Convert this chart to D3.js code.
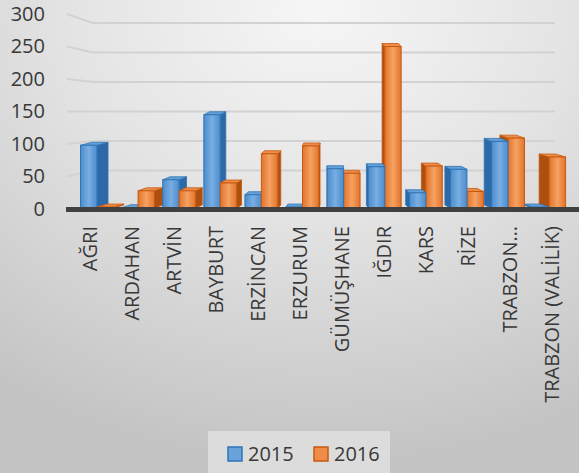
<!DOCTYPE html>
<html>
<head>
<meta charset="utf-8">
<script src="https://cdn.jsdelivr.net/npm/d3@7"></script>
<style>
  body { margin: 0; padding: 0; overflow: hidden; }
  svg text { font-family: "Open Sans", "Noto Sans", sans-serif; fill: #383838; }
</style>
</head>
<body>
<div id="chart"></div>
<script>
// Données
const iller = ["AĞRI", "ARDAHAN", "ARTVİN", "BAYBURT", "ERZİNCAN", "ERZURUM", "GÜMÜŞHANE", "IĞDIR", "KARS", "RİZE", "TRABZON…", "TRABZON (VALİLİK)"];
const yillar = ["2015", "2016"];
const degerler2015 = [98, 2, 45, 145, 22, 3, 62, 65, 25, 61, 104, 3];
const degerler2016 = [3, 28, 28, 40, 85, 97, 55, 250, 66, 27, 109, 80];
const yTicks = [0, 50, 100, 150, 200, 250, 300];

const width = 579, height = 473;
const renkler = {
    "2015": { lo: "#4d8ccd", hi: "#78aee2", edge: "#2e75b6", side: "#2c69a6", top: "#66a0d9", legend: "#6aa2dc" },
    "2016": { lo: "#e3732a", hi: "#f5a262", edge: "#c55a11", side: "#ad4f0f", top: "#f08c4a", legend: "#ef8c4a" }
};

const svg = d3.select("#chart").append("svg")
    .attr("width", width).attr("height", height);

const defs = svg.append("defs");
const bg = defs.append("radialGradient").attr("id", "bg")
    .attr("cx", "55%").attr("cy", "2%").attr("r", "95%");
bg.append("stop").attr("offset", "0%").attr("stop-color", "#f6f6f6");
bg.append("stop").attr("offset", "45%").attr("stop-color", "#e4e4e4");
bg.append("stop").attr("offset", "100%").attr("stop-color", "#c4c4c4");

yillar.forEach(y => {
    const g = defs.append("linearGradient").attr("id", "front" + y)
        .attr("x1", "0%").attr("x2", "100%").attr("y1", "0%").attr("y2", "0%");
    g.append("stop").attr("offset", "0%").attr("stop-color", renkler[y].lo);
    g.append("stop").attr("offset", "50%").attr("stop-color", renkler[y].hi);
    g.append("stop").attr("offset", "100%").attr("stop-color", renkler[y].lo);
});

svg.append("rect").attr("width", width).attr("height", height).attr("fill", "url(#bg)");

// Echelles
const yFront = d3.scaleLinear().domain([0, 300]).range([209, 14]);
const yBack = d3.scaleLinear().domain([0, 300]).range([200, 23]);
const xLabel = d3.scaleBand().domain(iller).range([69, 573]);
const xBar = d3.scaleBand().domain(iller).range([76.4, 569.7]).paddingInner(0.2).paddingOuter(0.1);
const xSub = d3.scaleBand().domain(yillar).range([0, xBar.bandwidth()]);

// Grille (mur gauche + mur du fond)
const grid = svg.append("g");
yTicks.filter(v => v > 0).forEach(v => {
    grid.append("path")
        .attr("d", `M67,${yFront(v)} L93,${yBack(v)} L555,${yBack(v)}`)
        .attr("fill", "none").attr("stroke", "#d2d2d2").attr("stroke-width", 2);
});

// Axe Y
const yAxis = svg.append("g").attr("transform", "translate(45,0)")
    .call(d3.axisLeft(yFront).tickValues(yTicks).tickSize(0).tickPadding(0));
yAxis.select(".domain").remove();
yAxis.selectAll("text").style("font-size", "20px").attr("fill", "#383838");

// Barres 3D
const vx = 335, k = 0.045, depthY = -3, yBot = 208;
const bars = [];
iller.forEach((il, i) => {
    [degerler2015[i], degerler2016[i]].forEach((v, j) => {
        const yil = yillar[j];
        const x0 = xBar(il) + xSub(yil);
        const x1 = x0 + xSub.bandwidth();
        bars.push({ il, yil, v, x0, x1, cx: (x0 + x1) / 2 });
    });
});
bars.sort((a, b) => Math.abs(b.cx - vx) - Math.abs(a.cx - vx));

const barG = svg.append("g");
bars.forEach(d => {
    const c = renkler[d.yil];
    const yt = yFront(d.v);
    const dx = -(d.cx - vx) * k;
    const g = barG.append("g");
    const sx = dx > 0 ? d.x1 : d.x0;
    g.append("path")
        .attr("d", `M${sx},${yt} L${sx + dx},${yt + depthY} L${sx + dx},${yBot + depthY} L${sx},${yBot} Z`)
        .attr("fill", c.side).attr("stroke", c.edge).attr("stroke-width", 0.8);
    g.append("path")
        .attr("d", `M${d.x0},${yt} L${d.x1},${yt} L${d.x1 + dx},${yt + depthY} L${d.x0 + dx},${yt + depthY} Z`)
        .attr("fill", c.top).attr("stroke", c.edge).attr("stroke-width", 0.8);
    g.append("rect")
        .attr("x", d.x0).attr("y", yt)
        .attr("width", d.x1 - d.x0).attr("height", Math.max(0, yBot - yt))
        .attr("fill", `url(#front${d.yil})`).attr("stroke", c.edge).attr("stroke-width", 1);
});

// Sol
svg.append("rect").attr("x", 66).attr("y", 207).attr("width", width - 66).attr("height", 5)
    .attr("fill", "#404040");

// Axe X
const xAxis = svg.append("g").attr("transform", "translate(0,209)")
    .call(d3.axisBottom(xLabel).tickSize(0));
xAxis.select(".domain").remove();
xAxis.selectAll("text")
    .style("font-size", "20px")
    .attr("fill", "#383838")
    .attr("transform", "rotate(-90)")
    .attr("text-anchor", "end")
    .attr("x", -17).attr("y", 0).attr("dy", "0.35em");

// Légende
const leg = svg.append("g");
leg.append("rect").attr("x", 208).attr("y", 431).attr("width", 182).attr("height", 42)
    .attr("fill", "#dcdcdc");
const legX = [228, 314];
yillar.forEach((y, i) => {
    leg.append("rect").attr("x", legX[i]).attr("y", 447).attr("width", 14).attr("height", 14)
        .attr("fill", renkler[y].legend).attr("stroke", renkler[y].edge).attr("stroke-width", 1.5);
    leg.append("text").attr("x", legX[i] + 20).attr("y", 461)
        .style("font-size", "20px").text(y);
});
</script>
</body>
</html>
